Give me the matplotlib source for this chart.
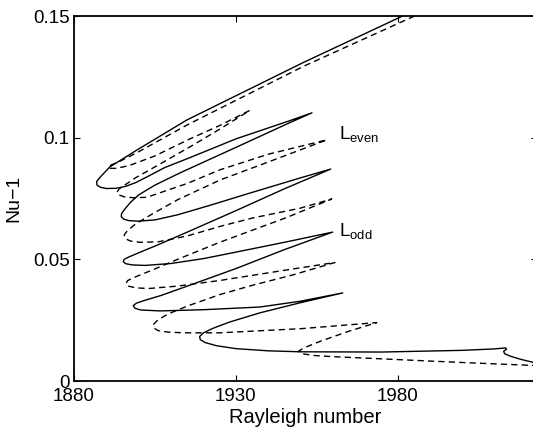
import numpy as np
import matplotlib
matplotlib.use("Agg")
import matplotlib.pyplot as plt

plt.rcParams['font.family'] = ['Liberation Sans', 'DejaVu Sans']
plt.rcParams['mathtext.default'] = 'regular'

# solid branch (Rayleigh number, Nu-1), tongue by tongue
solid_ra = [1981.5, 1951.0, 1914.9, 1899.4, 1891.1, 1889.3, 1887.9, 1887.0, 1887.1, 1888.2,
            1890.0, 1893.0, 1896.0, 1899.0, 1903.0, 1908.0, 1915.8, 1930.0, 1946.7, 1953.5,
            1946.7, 1930.0, 1912.7, 1905.0, 1900.0, 1897.5, 1895.6, 1894.7, 1894.6, 1895.4,
            1897.0, 1900.0, 1905.0, 1912.0, 1922.0, 1935.0, 1950.0, 1959.3,
            1945.0, 1930.0, 1915.0, 1906.0, 1900.0, 1897.0, 1895.5, 1895.2, 1896.0, 1898.0,
            1902.0, 1910.0, 1920.0, 1929.4, 1945.0, 1959.9,
            1945.0, 1930.0, 1915.0, 1907.0, 1902.0, 1899.3, 1898.3, 1898.8, 1900.5, 1906.5,
            1920.0, 1937.4, 1950.0, 1963.0,
            1950.0, 1937.4, 1928.0, 1923.0, 1920.0, 1918.8, 1919.0, 1920.5, 1924.0, 1930.0,
            1940.0, 1950.0, 1975.0, 2000.0, 2010.0, 2013.3, 2013.6, 2012.7, 2013.0, 2015.0,
            2018.0, 2022.0, 2030.0]
solid_nu = [0.1500, 0.1310, 0.1073, 0.0949, 0.0880, 0.0855, 0.0835, 0.0820, 0.0805, 0.0796,
            0.0791, 0.0792, 0.0800, 0.0815, 0.0842, 0.0877, 0.0918, 0.0995, 0.1070, 0.1102,
            0.1062, 0.0960, 0.0855, 0.0805, 0.0765, 0.0735, 0.0705, 0.0688, 0.0675, 0.0665,
            0.0659, 0.0657, 0.0662, 0.0683, 0.0722, 0.0775, 0.0835, 0.0871,
            0.0790, 0.0700, 0.0612, 0.0560, 0.0527, 0.0510, 0.0500, 0.0490, 0.0482, 0.0477,
            0.0475, 0.0483, 0.0503, 0.0528, 0.0570, 0.0612,
            0.0540, 0.0462, 0.0390, 0.0352, 0.0332, 0.0320, 0.0310, 0.0299, 0.0292, 0.0288,
            0.0293, 0.0304, 0.0328, 0.0362,
            0.0322, 0.0280, 0.0242, 0.0217, 0.0198, 0.0183, 0.0170, 0.0158, 0.0145, 0.0133,
            0.0124, 0.0120, 0.0119, 0.0126, 0.0132, 0.0136, 0.0131, 0.0122, 0.0112, 0.0101,
            0.0089, 0.0076, 0.0060]

# dashed branch
dash_ra = [1985.2, 1951.0, 1914.9, 1899.4, 1894.0, 1891.5, 1890.6, 1891.2, 1893.0, 1897.0,
           1905.0, 1915.8, 1925.0, 1934.3,
           1925.0, 1915.8, 1905.0, 1899.0, 1896.0, 1894.0, 1893.3, 1893.8, 1895.5, 1898.5,
           1902.5, 1915.0, 1925.1, 1940.0, 1958.1,
           1940.0, 1925.1, 1912.0, 1904.0, 1899.0, 1896.5, 1895.5, 1895.8, 1897.5, 1900.5,
           1906.0, 1915.0, 1925.0, 1935.2, 1949.8, 1959.6,
           1945.7, 1925.0, 1912.0, 1904.0, 1899.0, 1896.6, 1896.0, 1896.8, 1899.0, 1903.0,
           1912.0, 1925.0, 1945.0, 1960.6,
           1947.6, 1935.0, 1925.0, 1915.0, 1909.0, 1906.0, 1904.6, 1904.6, 1906.0, 1909.0,
           1914.0, 1925.0, 1950.0, 1973.5,
           1965.0, 1956.0, 1951.0, 1949.3, 1950.5, 1954.0, 1960.0, 1980.0, 2000.0, 2021.7,
           2030.0]
dash_nu = [0.1500, 0.1294, 0.1052, 0.0938, 0.0902, 0.0888, 0.0880, 0.0874, 0.0874, 0.0885,
           0.0925, 0.0995, 0.1050, 0.1112,
           0.1035, 0.0962, 0.0880, 0.0835, 0.0808, 0.0790, 0.0777, 0.0765, 0.0757, 0.0753,
           0.0755, 0.0812, 0.0868, 0.0932, 0.0991,
           0.0900, 0.0826, 0.0745, 0.0685, 0.0645, 0.0618, 0.0600, 0.0585, 0.0575, 0.0570,
           0.0572, 0.0596, 0.0635, 0.0670, 0.0710, 0.0748,
           0.0672, 0.0570, 0.0500, 0.0455, 0.0428, 0.0413, 0.0400, 0.0390, 0.0383, 0.0380,
           0.0390, 0.0413, 0.0455, 0.0487,
           0.0436, 0.0393, 0.0355, 0.0308, 0.0275, 0.0252, 0.0233, 0.0218, 0.0207, 0.0201,
           0.0198, 0.0198, 0.0215, 0.0240,
           0.0205, 0.0163, 0.0136, 0.0122, 0.0112, 0.0105, 0.0100, 0.0088, 0.0076, 0.0064,
           0.0060]

x_ticks = [1880, 1930, 1980]
y_ticks = [0, 0.05, 0.1, 0.15]
y_tick_labels = ["0", "0.05", "0.1", "0.15"]

fig = plt.figure(figsize=(5.33, 4.29), dpi=100)
# axes runs slightly past the right edge, as in the cropped original
ax = fig.add_axes([74 / 533, 48 / 429, 463 / 533, 365 / 429])

ax.plot(solid_ra, solid_nu, color="black", lw=1.0)
ax.plot(dash_ra, dash_nu, color="black", lw=1.0, linestyle=(0, (4.5, 3.0)))

ax.text(1962.0, 0.1017, r"$L_{even}$", fontsize=13.5, va="center", ha="left")
ax.text(1962.0, 0.0617, r"$L_{odd}$", fontsize=13.5, va="center", ha="left")

ax.set_xlim(1880, 2023)
ax.set_ylim(0, 0.15)
ax.set_xticks(x_ticks)
ax.set_yticks(y_ticks)
ax.set_yticklabels(y_tick_labels)
ax.tick_params(direction="in", length=4, width=0.8, labelsize=13.5,
               top=True, right=True)
ax.tick_params(axis="x", pad=5)
ax.tick_params(axis="y", pad=3)
for sp in ax.spines.values():
    sp.set_linewidth(1.3)

ax.set_xlabel("Rayleigh number", fontsize=14.5, labelpad=2.5)
ax.set_ylabel("Nu\u22121", fontsize=14, labelpad=8)

fig.savefig("out.png", dpi=100)
